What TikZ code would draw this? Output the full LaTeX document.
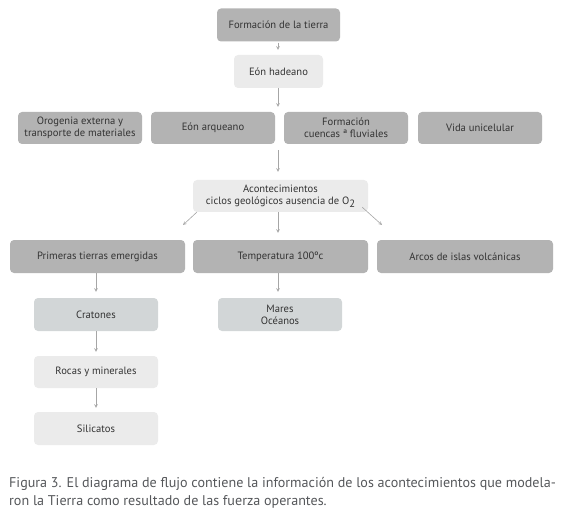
\documentclass[tikz,border=0pt]{standalone}
\usepackage{fontspec}
\setmainfont{PT Sans}
\definecolor{boxdark}{HTML}{B3B3B3}
\definecolor{boxmid}{HTML}{D2D6D7}
\definecolor{boxlight}{HTML}{EBEBEB}
\definecolor{txtgray}{HTML}{333333}
\definecolor{arrgray}{HTML}{A6A6A6}
\definecolor{captgray}{HTML}{55575A}
\tikzset{
  box/.style={rounded corners=4pt,inner sep=0pt,align=center,text=txtgray,
    font=\fontsize{10.6}{12}\selectfont,minimum height=33,minimum width=124},
  darkbox/.style={box,fill=boxdark},
  midbox/.style={box,fill=boxmid},
  lightbox/.style={box,fill=boxlight},
  arr/.style={->,draw=arrgray,line width=0.6pt,shorten >=5pt},
}
\begin{document}
\begin{tikzpicture}[x=1pt,y=-1pt,>=stealth]
		\useasboundingbox (0,0) rectangle (562,513);
		% top
		\node[darkbox,minimum width=123] (tierra) at (278.5,25) {Formación de la tierra};
		\node[lightbox,minimum width=89] (hadeano) at (278.5,71.5) {Eón hadeano};
		\node[darkbox,minimum height=32] (orogenia) at (80,128) {Orogenia externa y\\transporte de materiales};
		\node[darkbox,minimum height=32] (arqueano) at (213,128) {Eón arqueano};
		\node[darkbox,minimum height=32] (cuencas) at (346,128) {Formación\\cuencas ª fluviales};
		\node[darkbox,minimum height=32] (vida) at (480,128) {Vida unicelular};
		\node[lightbox,minimum width=175,minimum height=32] (acon) at (280.5,196) {Acontecimientos\\ciclos geológicos ausencia de O\raisebox{-2.5pt}{2}};
		% row below
		\node[darkbox,minimum width=175] (primeras) at (97.5,256.5) {Primeras tierras emergidas};
		\node[darkbox,minimum width=175] (temp) at (280.5,256.5) {Temperatura 100ºc};
		\node[darkbox,minimum width=176] (arcos) at (465,256.5) {Arcos de islas volcánicas};
		\node[midbox] (cratones) at (96,314.5) {Cratones};
		\node[midbox] (mares) at (280,314.5) {Mares\\Océanos};
		\node[lightbox,minimum height=32] (rocas) at (96,372) {Rocas y minerales};
		\node[lightbox] (silicatos) at (96,428.5) {Silicatos};
		\coordinate (dl) at (183,225);
		\coordinate (dr) at (382,225);
		% arrows
		\draw[arr,shorten <=1pt] (tierra.south -| 278,0) -- (hadeano.north -| 278,0);
		\draw[arr] (hadeano.south -| 278,0) -- (arqueano.north -| 278,0);
		\draw[arr,shorten <=6pt,shorten >=8pt] (arqueano.south -| 278,0) -- (acon.north -| 278,0);
		\draw[arr,shorten >=7pt] (acon.south -| 278,0) -- (temp.north -| 278,0);
		\draw[arr,shorten >=0pt] ([xshift=4pt]acon.south west) -- (dl);
		\draw[arr,shorten >=0pt] ([xshift=-6pt,yshift=5pt]acon.south east) -- (dr);
		\draw[arr,shorten >=6pt] (temp.south -| 278,0) -- (mares.north -| 278,0);
		\draw[arr,shorten >=6pt] (primeras.south -| cratones) -- (cratones);
		\foreach \a/\b in {cratones/rocas,rocas/silicatos}
			\draw[arr,shorten >=4pt] (\a) -- (\b);
		% caption
		\node[anchor=base west,align=left,inner sep=0pt,text=captgray,
			font=\fontsize{14.1}{18}\selectfont] (caption) at (9,505)
			{Figura 3. El diagrama de flujo contiene la información de los acontecimientos que modela-\\
			ron la Tierra como resultado de las fuerza operantes.};
\end{tikzpicture}
\end{document}
